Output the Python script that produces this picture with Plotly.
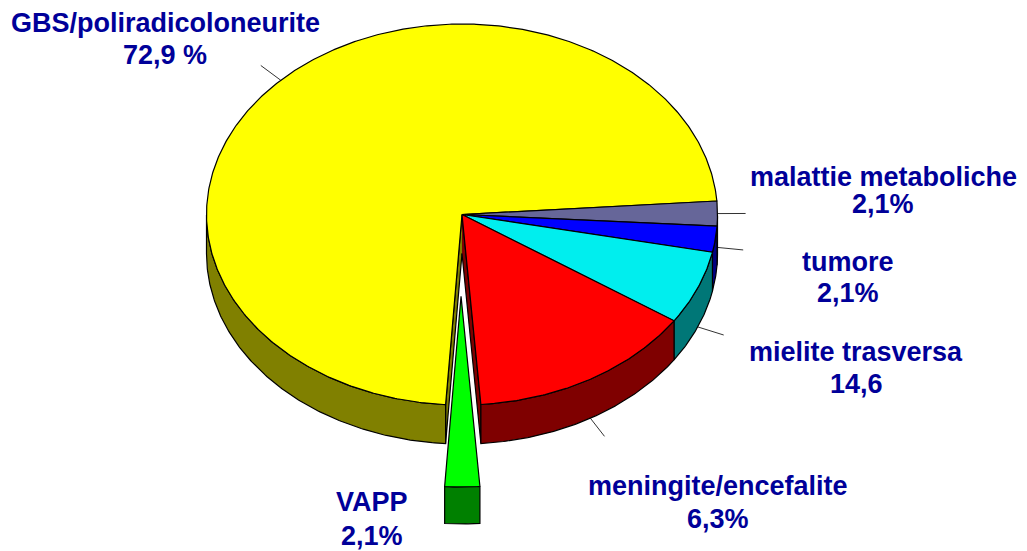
import numpy as np
import plotly.graph_objects as go

# Data: slices in clockwise order, starting from the slate slice (shares)
categories = ["malattie metaboliche", "tumore", "mielite trasversa",
              "meningite/encefalite", "VAPP", "GBS/poliradicoloneurite"]
slice_values = [2.1, 2.2, 6.25, 14.4, 2.2, 72.85]
value_labels = ["2,1%", "2,1%", "14,6", "6,3%", "2,1%", "72,9 %"]

top_colors = ["#666699", "#0000FF", "#00EEEE", "#FF0000", "#00FF00", "#FFFF00"]
side_colors = ["#333366", "#000080", "#007777", "#7F0000", "#008000", "#808000"]

# Style / geometry of the projected pie
CX, CY, RX, RY, DEPTH = 462.0, 214.5, 255.5, 190.5, 39.0
EXPLODED_DEPTH = 37.0
EXPLODED_SHIFT_X = -1.5
START_DEG = 4.06
EXPLODE = [0, 0, 0, 0, 0.43, 0]
LEADER_DROP = [0, 8, 39, 39, None, 0]
LEADER_R = 1.11
TEXT_COLOR = "#000099"
FONT = "Liberation Sans, Arial, sans-serif"
FONT_SIZE = 27
LINE_W = 1.2

# centre x, y for first and second text line of each category
label_pos = [(883, 177, 204), (848, 262, 293), (856, 352, 384),
             (718, 486, 519), (372, 502, 536), (165, 23, 55)]

total = sum(slice_values)
spans = [v / total * 360 for v in slice_values]
bounds = START_DEG - np.concatenate([[0], np.cumsum(spans)])


def ex(t):
    return RX * np.cos(np.radians(t))


def ey(t):
    return -RY * np.sin(np.radians(t))


fig = go.Figure()


def poly(xs, ys, fill):
    fig.add_trace(go.Scatter(x=list(xs), y=list(ys), mode="lines", fill="toself",
                             fillcolor=fill, line=dict(color="#000000", width=LINE_W),
                             hoverinfo="skip", showlegend=False))


# leader lines lie underneath the pie
for i, drop in enumerate(LEADER_DROP):
    if drop is None:
        continue
    mid = (bounds[i] + bounds[i + 1]) / 2
    fig.add_trace(go.Scatter(
        x=[CX + ex(mid), CX + LEADER_R * ex(mid)],
        y=[CY + ey(mid) + drop, CY + LEADER_R * ey(mid) + drop],
        mode="lines", line=dict(color="#333333", width=1),
        hoverinfo="skip", showlegend=False))

# side walls, then top faces (painter's order); exploded slice last
order = [5, 0, 1, 2, 3]
for i in order:
    t1, t2 = bounds[i], bounds[i + 1]
    ts = np.linspace(t1, t2, max(int(abs(t2 - t1) * 2), 8))
    lo = ts[(np.sin(np.radians(ts)) <= 0)]
    # cut wall at the slice edge bordering the removed slice
    if i == 5:
        xs = [CX, CX + ex(t1), CX + ex(t1), CX]
        ys = [CY, CY + ey(t1), CY + ey(t1) + DEPTH, CY + DEPTH]
        poly(xs, ys, side_colors[i])
    if i == 3:
        xs = [CX, CX + ex(t2), CX + ex(t2), CX]
        ys = [CY, CY + ey(t2), CY + ey(t2) + DEPTH, CY + DEPTH]
        poly(xs, ys, side_colors[i])
    if len(lo) > 1:
        xs = np.concatenate([CX + ex(lo), CX + ex(lo[::-1])])
        ys = np.concatenate([CY + ey(lo), CY + ey(lo[::-1]) + DEPTH])
        poly(np.append(xs, xs[0]), np.append(ys, ys[0]), side_colors[i])

for i in order:
    t1, t2 = bounds[i], bounds[i + 1]
    ts = np.linspace(t1, t2, max(int(abs(t2 - t1) * 2), 8))
    xs = np.concatenate([[CX], CX + ex(ts), [CX]])
    ys = np.concatenate([[CY], CY + ey(ts), [CY]])
    poly(xs, ys, top_colors[i])

# exploded slice
i = 4
t1, t2 = bounds[i], bounds[i + 1]
mid = (t1 + t2) / 2
ox, oy = EXPLODE[i] * ex(mid) + EXPLODED_SHIFT_X, EXPLODE[i] * ey(mid)
ts = np.linspace(t1, t2, 16)
xs = np.concatenate([CX + ox + ex(ts), CX + ox + ex(ts[::-1])])
ys = np.concatenate([CY + oy + ey(ts), CY + oy + ey(ts[::-1]) + EXPLODED_DEPTH])
poly(np.append(xs, xs[0]), np.append(ys, ys[0]), side_colors[i])
xs = np.concatenate([[CX + ox], CX + ox + ex(ts), [CX + ox]])
ys = np.concatenate([[CY + oy], CY + oy + ey(ts), [CY + oy]])
poly(xs, ys, top_colors[i])

annotations = []
for name, val, (x, y1, y2) in zip(categories, value_labels, label_pos):
    for text, y in ((name, y1), (val, y2)):
        annotations.append(dict(x=x, y=y, text=f"<b>{text}</b>", showarrow=False,
                                xanchor="center", yanchor="middle",
                                font=dict(family=FONT, size=FONT_SIZE, color=TEXT_COLOR)))

fig.update_layout(
    width=1027, height=551, margin=dict(l=0, r=0, t=0, b=0),
    paper_bgcolor="#FFFFFF", plot_bgcolor="#FFFFFF", showlegend=False,
    xaxis=dict(range=[0, 1027], visible=False, fixedrange=True),
    yaxis=dict(range=[551, 0], visible=False, fixedrange=True),
    annotations=annotations,
)

fig.write_html("out.html", config={"displayModeBar": False},
               post_script="document.body.style.margin='0';document.body.style.overflow='hidden';")
